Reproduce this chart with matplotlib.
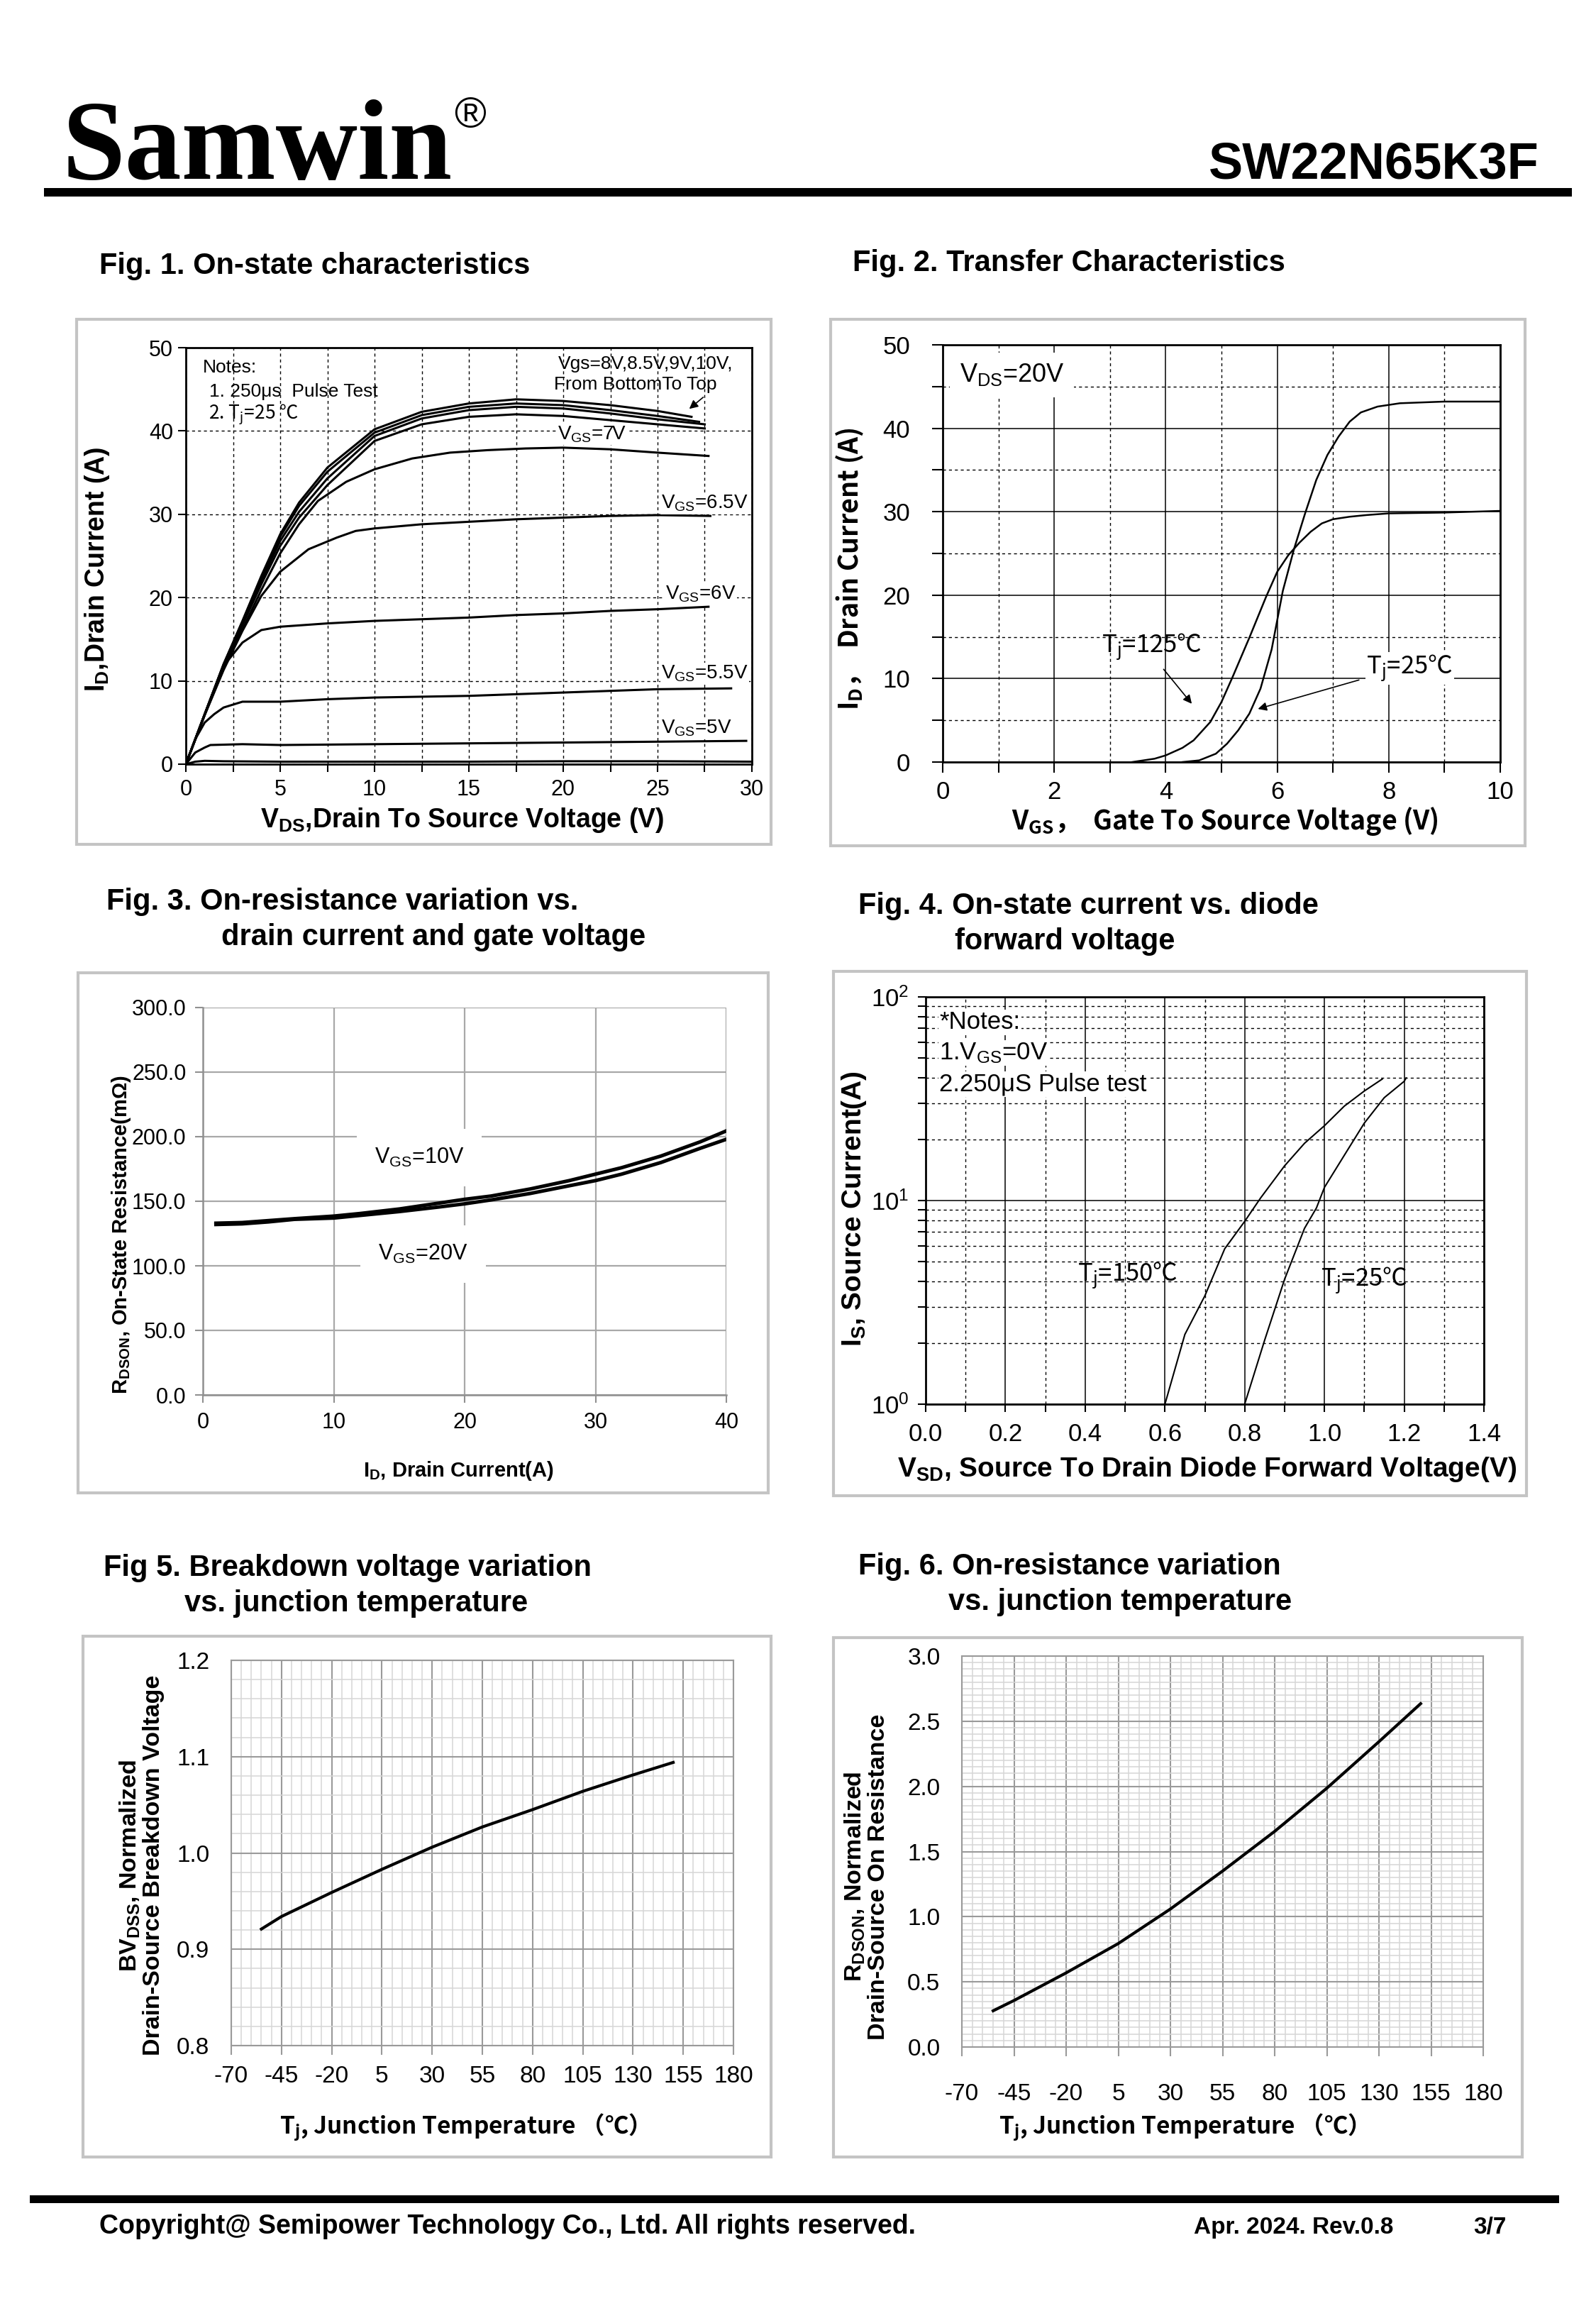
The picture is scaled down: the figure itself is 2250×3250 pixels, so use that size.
import matplotlib
matplotlib.use('Agg')
import matplotlib.pyplot as plt
from matplotlib.patches import Rectangle
from matplotlib.ticker import (MultipleLocator, FixedLocator, FormatStrFormatter,
                               LogLocator, NullFormatter)

W, H = 2250, 3250
SANS = ['Liberation Sans', 'DejaVu Sans', 'Noto Sans CJK SC']
CJK = ['Noto Sans CJK SC', 'DejaVu Sans']
SERIF = ['Liberation Serif', 'DejaVu Serif']
plt.rcParams['font.family'] = SANS
plt.rcParams['mathtext.default'] = 'regular'
plt.rcParams['axes.unicode_minus'] = False

# ---- Fig 1: on-state characteristics (x: Vds, y: Id) ----
vds_10 = [0, 1, 2, 3, 4, 5, 6, 7.5, 10, 12.5, 15, 17.5, 20, 22.5, 25, 26.8]
id_10 = [0, 6.0, 12.0, 17.2, 22.6, 27.6, 31.4, 35.6, 40.2, 42.3, 43.3, 43.8, 43.6, 43.1, 42.4, 41.7]
vds_9 = [0, 1, 2, 3, 4, 5, 6, 7.5, 10, 12.5, 15, 17.5, 20, 22.5, 25, 27.2]
id_9 = [0, 6.0, 12.0, 17.1, 22.4, 27.3, 31.0, 35.1, 39.8, 41.9, 42.9, 43.3, 43.1, 42.5, 41.8, 41.1]
vds_85 = [0, 1, 2, 3, 4, 5, 6, 7.5, 10, 12.5, 15, 17.5, 20, 22.5, 25, 27.5]
id_85 = [0, 6.0, 11.9, 16.9, 22.0, 26.8, 30.3, 34.3, 39.4, 41.5, 42.5, 42.9, 42.7, 42.1, 41.4, 40.8]
vds_8 = [0, 1, 2, 3, 4, 5, 6, 7.5, 10, 12.5, 15, 17.5, 20, 22.5, 25, 27.5]
id_8 = [0, 6.0, 11.8, 16.7, 21.6, 26.2, 29.6, 33.5, 38.8, 40.8, 41.7, 42.0, 41.8, 41.3, 40.8, 40.3]
vds_7 = [0, 1, 2, 3, 4, 5, 6, 7, 8.5, 10, 12, 14, 16, 18, 20, 22.5, 25, 27.7]
id_7 = [0, 5.9, 11.5, 16.2, 20.9, 25.3, 28.8, 31.6, 33.9, 35.4, 36.7, 37.4, 37.7, 37.9, 38.0, 37.8, 37.4, 37.0]
vds_65 = [0, 1, 2, 3, 4, 5, 6.5, 8, 9, 10, 12.5, 15, 17.5, 20, 22.5, 25, 27.8]
id_65 = [0, 5.9, 11.3, 16.0, 20.2, 23.1, 25.8, 27.2, 28.0, 28.3, 28.8, 29.1, 29.4, 29.6, 29.8, 29.9, 29.8]
vds_6 = [0, 1, 2, 3, 4, 5, 7.5, 10, 12.5, 15, 17.5, 20, 22.5, 25, 27.7]
id_6 = [0, 6.0, 11.8, 14.6, 16.1, 16.5, 16.9, 17.2, 17.4, 17.6, 17.9, 18.1, 18.4, 18.6, 18.9]
vds_55 = [0, 0.5, 1, 1.5, 2, 3, 5, 7.5, 10, 12.5, 15, 17.5, 20, 22.5, 25, 28.9]
id_55 = [0, 3.0, 5.0, 6.0, 6.8, 7.5, 7.5, 7.8, 8.0, 8.1, 8.2, 8.4, 8.6, 8.8, 9.0, 9.1]
vds_5 = [0, 0.5, 1, 1.3, 3, 5, 10, 15, 20, 25, 29.7]
id_5 = [0, 1.4, 2.0, 2.3, 2.4, 2.3, 2.4, 2.5, 2.6, 2.7, 2.8]
vds_45 = [0, 0.5, 1, 2, 5, 10, 15, 20, 25, 30]
id_45 = [0, 0.3, 0.4, 0.35, 0.3, 0.3, 0.3, 0.35, 0.35, 0.3]
fig1_curves = [(vds_10, id_10), (vds_9, id_9), (vds_85, id_85), (vds_8, id_8), (vds_7, id_7),
               (vds_65, id_65), (vds_6, id_6), (vds_55, id_55), (vds_5, id_5), (vds_45, id_45)]

# ---- Fig 2: transfer characteristics ----
vgs_25 = [4.3, 4.6, 4.9, 5.1, 5.3, 5.5, 5.7, 5.9, 6.1, 6.3, 6.5, 6.7, 6.9, 7.1, 7.3, 7.5, 7.8, 8.2, 9.0, 10.0]
id_25 = [0, 0.2, 1.0, 2.2, 3.8, 5.8, 8.8, 13.5, 20.5, 25.5, 29.8, 33.8, 36.8, 39.0, 40.8, 41.9, 42.6, 43.0, 43.2, 43.2]
vgs_125 = [3.4, 3.8, 4.0, 4.3, 4.5, 4.8, 5.0, 5.2, 5.5, 5.8, 6.0, 6.2, 6.4, 6.6, 6.8, 7.0, 7.3, 7.6, 8.0, 9.0, 10.0]
id_125 = [0, 0.4, 0.8, 1.7, 2.6, 4.8, 7.2, 10.2, 14.9, 19.8, 22.8, 24.8, 26.3, 27.6, 28.6, 29.1, 29.4, 29.6, 29.8, 29.9, 30.1]

# ---- Fig 3: Rdson vs drain current ----
id3 = [1, 3, 5, 7, 10, 12, 15, 18, 20, 22, 25, 28, 30, 32, 35, 38, 40]
rds_10v = [133, 133.5, 135, 136.5, 138.5, 140.5, 144, 148.5, 151.5, 154, 159.5, 166, 171, 176, 185, 196, 204.5]
rds_20v = [132, 132.5, 134, 136, 137, 139, 142, 145.5, 148, 151, 156, 162, 166, 171, 180, 191, 198]

# ---- Fig 4: diode forward voltage ----
vsd_150 = [0.6, 0.65, 0.7, 0.75, 0.8, 0.84, 0.9, 0.95, 1.0, 1.05, 1.1, 1.145]
is_150 = [1.0, 2.2, 3.4, 5.8, 7.9, 10.3, 14.8, 19.1, 23.3, 29.1, 34.5, 39.5]
vsd_25 = [0.8, 0.85, 0.9, 0.95, 0.98, 1.0, 1.05, 1.1, 1.15, 1.2, 1.205]
is_25 = [1.0, 2.06, 4.1, 7.3, 9.2, 11.6, 16.7, 24.0, 32.0, 38.5, 40.0]

# ---- Fig 5 / Fig 6: vs junction temperature ----
temp_ticks = [-70, -45, -20, 5, 30, 55, 80, 105, 130, 155, 180]
tj = [-55, -45, -20, 5, 30, 55, 80, 105, 130, 150]
bv_norm = [0.921, 0.934, 0.959, 0.983, 1.006, 1.027, 1.045, 1.064, 1.081, 1.094]
rds_norm = [0.278, 0.357, 0.569, 0.794, 1.059, 1.35, 1.655, 1.986, 2.343, 2.635]

fig = plt.figure(figsize=(W / 100, H / 100), dpi=100)


def axbox(x0, y0, x1, y1):
    return fig.add_axes([x0 / W, 1 - y1 / H, (x1 - x0) / W, (y1 - y0) / H])


def ftext(x, y, s, **kw):
    return fig.text(x / W, 1 - y / H, s, **kw)


def rect(x0, y0, x1, y1, color='#c4c4c4', lw=3, fill=False):
    fig.add_artist(Rectangle((x0 / W, 1 - y1 / H), (x1 - x0) / W, (y1 - y0) / H,
                             transform=fig.transFigure, fill=fill, fc=color, ec=color,
                             lw=0 if fill else lw))


WHITE = dict(fc='white', ec='none', pad=1)
DASH = (0, (3, 3))

# header
ftext(88, 252, 'Samwin', family=SERIF, weight='bold', fontsize=115, va='baseline')
ftext(640, 165, '®', family=SANS, fontsize=44, va='center')
ftext(2170, 252, 'SW22N65K3F', family=SANS, weight='bold', fontsize=52, va='baseline', ha='right')
rect(62, 265, 2216, 277, color='black', fill=True)

# titles
tkw = dict(family=SANS, weight='bold', fontsize=30, va='center')
ftext(140, 375, 'Fig. 1. On-state characteristics', **tkw)
ftext(1202, 371, 'Fig. 2. Transfer Characteristics', **tkw)
ftext(150, 1271, 'Fig. 3. On-resistance variation vs.', **tkw)
ftext(312, 1321, 'drain current and gate voltage', **tkw)
ftext(1210, 1277, 'Fig. 4. On-state current vs. diode', **tkw)
ftext(1346, 1327, 'forward voltage', **tkw)
ftext(146, 2210, 'Fig 5. Breakdown voltage variation', **tkw)
ftext(260, 2260, 'vs. junction temperature', **tkw)
ftext(1210, 2208, 'Fig. 6. On-resistance variation', **tkw)
ftext(1337, 2258, 'vs. junction temperature', **tkw)

# panel frames
rect(108, 450, 1087, 1190)
rect(1171, 450, 2150, 1192)
rect(110, 1371, 1083, 2104)
rect(1175, 1369, 2152, 2108)
rect(117, 2306, 1087, 3040)
rect(1175, 2308, 2146, 3040)

# ---------------- Fig 1 ----------------
ax1 = axbox(262, 490, 1060, 1077)
for x, y in fig1_curves:
    ax1.plot(x, y, color='black', lw=2.2)
ax1.set_xlim(0, 30)
ax1.set_ylim(0, 50)
ax1.xaxis.set_major_locator(MultipleLocator(5))
ax1.xaxis.set_minor_locator(MultipleLocator(2.5))
ax1.yaxis.set_major_locator(MultipleLocator(10))
ax1.set_axisbelow(True)
ax1.grid(which='both', axis='x', ls=DASH, color='black', lw=1)
ax1.grid(which='major', axis='y', ls=DASH, color='black', lw=1)
ax1.tick_params(which='both', direction='out', length=8, width=1.5, labelsize=22)
ax1.tick_params(axis='x', pad=7)
ax1.tick_params(axis='y', pad=5)
for s in ax1.spines.values():
    s.set_linewidth(2)
nk = dict(fontsize=19, va='center')
ax1.text(0.9, 47.6, 'Notes:', **nk)
ax1.text(1.25, 44.7, '1. 250μs  Pulse Test', **nk)
ax1.text(1.2, 42.0, '2. T$_j$=25 ℃', family=CJK, **nk)
ax1.text(29.0, 48.0, 'Vgs=8V,8.5V,9V,10V,', ha='right', **nk)
ax1.text(19.5, 45.6, 'From BottomTo Top', **nk)
ax1.annotate('', xy=(26.6, 42.5), xytext=(27.5, 44.2),
             arrowprops=dict(arrowstyle='-|>', color='black', lw=1.2, mutation_scale=18))
lk = dict(fontsize=20, va='center', bbox=WHITE)
ax1.text(19.7, 39.6, 'V$_{GS}$=7V', **lk)
ax1.text(25.2, 31.3, 'V$_{GS}$=6.5V', **lk)
ax1.text(25.4, 20.4, 'V$_{GS}$=6V', **lk)
ax1.text(25.2, 10.9, 'V$_{GS}$=5.5V', **lk)
ax1.text(25.2, 4.3, 'V$_{GS}$=5V', **lk)
ftext(652, 1156, 'V$_{DS}$,Drain To Source Voltage (V)', weight='bold', fontsize=27, ha='center', va='center')
ftext(137, 802, 'I$_D$,Drain Current (A)', weight='bold', fontsize=27, ha='center', va='center', rotation=90)

# ---------------- Fig 2 ----------------
ax2 = axbox(1329, 486, 2115, 1074)
ax2.plot(vgs_25, id_25, color='black', lw=1.8)
ax2.plot(vgs_125, id_125, color='black', lw=1.8)
ax2.set_xlim(0, 10)
ax2.set_ylim(0, 50)
ax2.xaxis.set_major_locator(MultipleLocator(2))
ax2.xaxis.set_minor_locator(MultipleLocator(1))
ax2.yaxis.set_major_locator(MultipleLocator(10))
ax2.yaxis.set_minor_locator(MultipleLocator(5))
ax2.set_axisbelow(True)
ax2.grid(which='major', color='black', lw=1.1)
ax2.grid(which='minor', color='black', lw=1, ls=DASH)
ax2.tick_params(which='both', direction='out', length=11, width=1.5, labelsize=25)
ax2.tick_params(axis='x', pad=8)
ax2.tick_params(axis='y', pad=22)
for s in ax2.spines.values():
    s.set_linewidth(2)
ax2.text(0.3, 46.4, 'V$_{DS}$=20V', fontsize=26, va='center',
         bbox=dict(fc='white', ec='none', pad=10))
ax2.text(2.85, 13.7, 'T$_j$=125℃', family=CJK, fontsize=25, va='center')
ax2.text(7.6, 11.2, 'T$_j$=25℃', family=CJK, fontsize=25, va='center', bbox=WHITE)
ax2.annotate('', xy=(4.49, 6.8), xytext=(3.94, 11.3),
             arrowprops=dict(arrowstyle='-|>', color='black', lw=1.2, mutation_scale=18))
ax2.annotate('', xy=(5.62, 6.3), xytext=(7.5, 9.9),
             arrowprops=dict(arrowstyle='-|>', color='black', lw=1.2, mutation_scale=18))
ftext(1727, 1158, 'V$_{GS}$，  Gate To Source Voltage (V)', family=CJK, weight='bold', fontsize=27,
      ha='center', va='center')
ftext(1198, 802, 'I$_D$，  Drain Current (A)', family=CJK, weight='bold', fontsize=27,
      ha='center', va='center', rotation=90)

# ---------------- Fig 3 ----------------
ax3 = axbox(286, 1420, 1024, 1966)
ax3.plot(id3, rds_10v, color='black', lw=3.6)
ax3.plot(id3, rds_20v, color='black', lw=3.6)
ax3.set_xlim(0, 40)
ax3.set_ylim(0, 300)
ax3.xaxis.set_major_locator(MultipleLocator(10))
ax3.yaxis.set_major_locator(MultipleLocator(50))
ax3.yaxis.set_major_formatter(FormatStrFormatter('%.1f'))
ax3.set_axisbelow(True)
ax3.grid(color='#a8a8a8', lw=1.6)
ax3.spines['top'].set_visible(False)
ax3.spines['right'].set_visible(False)
for s in ('left', 'bottom'):
    ax3.spines[s].set_color('#909090')
    ax3.spines[s].set_linewidth(1.8)
ax3.tick_params(direction='out', length=8, width=1.5, color='#909090', labelsize=22)
ax3.tick_params(axis='x', pad=9)
ax3.tick_params(axis='y', pad=9)
ax3.text(13.1, 184, 'V$_{GS}$=10V', fontsize=22, va='center',
         bbox=dict(fc='white', ec='none', pad=18))
ax3.text(13.4, 109, 'V$_{GS}$=20V', fontsize=22, va='center',
         bbox=dict(fc='white', ec='none', pad=18))
ftext(646, 2073, 'I$_D$, Drain Current(A)', weight='bold', fontsize=21, ha='center', va='center')
ftext(171, 1740, 'R$_{DSON}$, On-State Resistance(mΩ)', family=SANS, weight='bold', fontsize=21,
      ha='center', va='center', rotation=90)

# ---------------- Fig 4 ----------------
ax4 = axbox(1305, 1405, 2092, 1979)
ax4.plot(vsd_150, is_150, color='black', lw=1.5)
ax4.plot(vsd_25, is_25, color='black', lw=1.5)
ax4.set_yscale('log')
ax4.set_xlim(0, 1.4)
ax4.set_ylim(1, 100)
ax4.xaxis.set_major_locator(MultipleLocator(0.2))
ax4.xaxis.set_minor_locator(MultipleLocator(0.1))
ax4.xaxis.set_major_formatter(FormatStrFormatter('%.1f'))
ax4.yaxis.set_minor_locator(LogLocator(base=10, subs=range(2, 10)))
ax4.yaxis.set_minor_formatter(NullFormatter())
ax4.set_axisbelow(True)
ax4.grid(which='major', color='black', lw=1.1)
ax4.grid(which='minor', color='black', lw=1, ls=DASH)
ax4.tick_params(which='both', direction='out', length=8, width=1.5, labelsize=25)
ax4.tick_params(axis='x', pad=11)
ax4.tick_params(axis='y', pad=9)
for s in ax4.spines.values():
    s.set_linewidth(2)
nk4 = dict(fontsize=25, va='center', bbox=WHITE)
ax4.text(0.034, 75, '*Notes:', **nk4)
ax4.text(0.034, 53, '1.V$_{GS}$=0V', **nk4)
ax4.text(0.034, 37.3, '2.250μS Pulse test', **nk4)
ax4.text(0.38, 4.27, 'T$_j$=150℃', family=CJK, fontsize=25, va='center')
ax4.text(0.99, 4.03, 'T$_j$=25℃', family=CJK, fontsize=25, va='center')
ftext(1702, 2071, 'V$_{SD}$, Source To Drain Diode Forward Voltage(V)', weight='bold', fontsize=28,
      ha='center', va='center')
ftext(1204, 1704, 'I$_S$, Source Current(A)', weight='bold', fontsize=28, ha='center', va='center',
      rotation=90)


# ---------------- Fig 5 / Fig 6 ----------------
def temp_axes(ax, y_major, y_minor, xpad):
    ax.set_xlim(-70, 180)
    ax.xaxis.set_major_locator(FixedLocator(temp_ticks))
    ax.xaxis.set_minor_locator(MultipleLocator(5))
    ax.yaxis.set_major_locator(MultipleLocator(y_major))
    ax.yaxis.set_minor_locator(MultipleLocator(y_minor))
    ax.yaxis.set_major_formatter(FormatStrFormatter('%.1f'))
    ax.set_axisbelow(True)
    ax.grid(which='minor', color='#d6d6d6', lw=1.1)
    ax.grid(which='major', color='#9a9a9a', lw=1.5)
    for s in ax.spines.values():
        s.set_color('#9a9a9a')
        s.set_linewidth(1.5)
    ax.tick_params(which='major', direction='out', length=9, width=1.5, color='#9a9a9a', labelsize=24)
    ax.tick_params(which='minor', length=0)
    ax.tick_params(axis='x', pad=xpad)
    ax.tick_params(axis='y', length=0, pad=22)


ax5 = axbox(326, 2340, 1034, 2883)
ax5.plot(tj, bv_norm, color='black', lw=3)
ax5.set_ylim(0.8, 1.2)
temp_axes(ax5, 0.1, 0.02, 11)
ftext(646, 2998, 'T$_j$, Junction Temperature （℃）', family=CJK, weight='bold', fontsize=24,
      ha='center', va='center')
ftext(199, 2629, 'BV$_{DSS}$, Normalized\nDrain-Source Breakdown Voltage', family=SANS, weight='bold',
      fontsize=24.5, ha='center', va='center', rotation=90, linespacing=1.05)

ax6 = axbox(1356, 2334, 2091, 2885)
ax6.plot(tj, rds_norm, color='black', lw=3)
ax6.set_ylim(0, 3)
temp_axes(ax6, 0.5, 0.05, 28)
ftext(1660, 2998, 'T$_j$, Junction Temperature （℃）', family=CJK, weight='bold', fontsize=24,
      ha='center', va='center')
ftext(1221, 2645, 'R$_{DSON}$, Normalized\nDrain-Source On Resistance', family=SANS, weight='bold',
      fontsize=24.5, ha='center', va='center', rotation=90, linespacing=1.05)

# footer
rect(42, 3094, 2198, 3105, color='black', fill=True)
fk = dict(family=SANS, weight='bold', va='baseline')
ftext(140, 3148, 'Copyright@ Semipower Technology Co., Ltd. All rights reserved.', fontsize=27, **fk)
ftext(1683, 3148, 'Apr. 2024. Rev.0.8', fontsize=24, **fk)
ftext(2077, 3148, '3/7', fontsize=24, **fk)

fig.savefig('out.png', dpi=100, facecolor='white')
